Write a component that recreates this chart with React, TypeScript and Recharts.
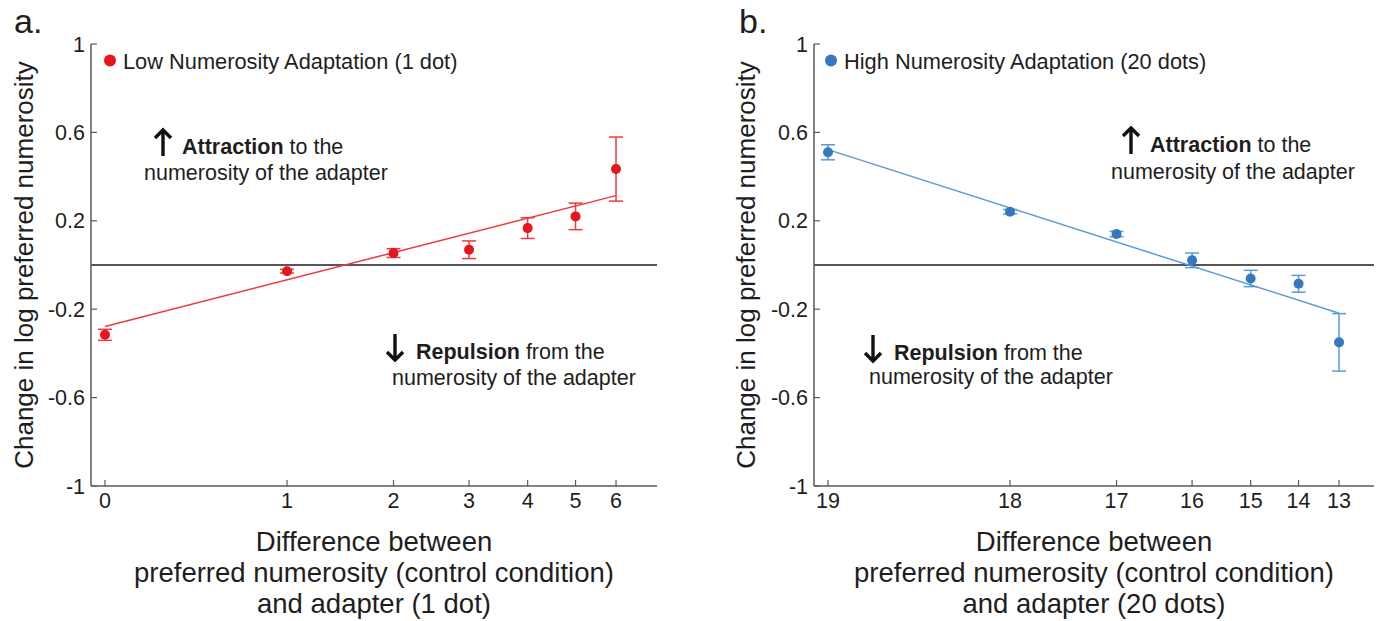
import React from 'react';
import { ComposedChart, Scatter, Line, XAxis, YAxis, ErrorBar, ReferenceLine } from 'recharts';

// Panel a: adaptation to 1 dot
const lowDiff = [0, 1, 2, 3, 4, 5, 6];
const lowShift = [-0.316, -0.028, 0.054, 0.069, 0.167, 0.22, 0.434];
const lowSem = [0.025, 0.008, 0.02, 0.04, 0.047, 0.06, 0.145];
const lowFitEnds = [-0.278, 0.314];

// Panel b: adaptation to 20 dots
const highDiff = [19, 18, 17, 16, 15, 14, 13];
const highShift = [0.51, 0.241, 0.14, 0.021, -0.061, -0.085, -0.35];
const highSem = [0.034, 0.01, 0.012, 0.033, 0.037, 0.038, 0.13];
const highFitEnds = [0.522, -0.218];

const yTicks = [-1, -0.6, -0.2, 0.2, 0.6, 1];

const FONT = '"Liberation Sans", Arial, Helvetica, sans-serif';
const AXIS = '#5a5a5a';
const INK = '#1e1e1e';

// the x axis is logarithmic in the preferred numerosity
const lowPreferred = (d: number) => d + 1;
const highPreferred = (d: number) => 20 - d;

type PanelProps = {
  diffs: number[];
  shift: number[];
  sem: number[];
  fitEnds: number[];
  preferred: (d: number) => number;
  dotColor: string;
  lineColor: string;
  width: number;
  marginLeft: number;
  marginRight: number;
  xMax: number;
};

const XMIN = -0.0533;

function Panel({ diffs, shift, sem, fitEnds, preferred, dotColor, lineColor, width, marginLeft, marginRight, xMax }: PanelProps) {
  const points = diffs.map((d, i) => ({ x: Math.log(preferred(d)), y: shift[i], sem: sem[i] }));
  const fit = [
    { x: Math.log(preferred(diffs[0])), y: fitEnds[0] },
    { x: Math.log(preferred(diffs[diffs.length - 1])), y: fitEnds[1] },
  ];
  const xTicks = diffs.map((d) => Math.log(preferred(d)));

  const XTick = (props: any) => {
    const { x, y, index } = props;
    return (
      <g>
        <line x1={x} y1={y - 6} x2={x} y2={y - 12} stroke={AXIS} strokeWidth={1.2} />
        <text x={x} y={y} dy={16} textAnchor="middle" fontSize={21.5} fontFamily={FONT} fill={INK}>
          {diffs[index]}
        </text>
      </g>
    );
  };

  const YTick = (props: any) => {
    const { x, y, payload } = props;
    return (
      <g>
        <line x1={x + 6} y1={y} x2={x + 12} y2={y} stroke={AXIS} strokeWidth={1.2} />
        <text x={x} y={y} dy={7.5} textAnchor="end" fontSize={21.5} fontFamily={FONT} fill={INK}>
          {String(payload.value)}
        </text>
      </g>
    );
  };

  return (
    <ComposedChart
      width={width}
      height={621}
      margin={{ top: 44, right: marginRight, bottom: 105, left: marginLeft }}
    >
      <XAxis
        type="number"
        dataKey="x"
        domain={[XMIN, xMax]}
        allowDataOverflow
        ticks={xTicks}
        interval={0}
        height={30}
        tickSize={6}
        tickMargin={0}
        tickLine={false}
        axisLine={{ stroke: AXIS, strokeWidth: 1.5 }}
        tick={<XTick />}
      />
      <YAxis
        type="number"
        dataKey="y"
        domain={[-1, 1]}
        allowDataOverflow
        ticks={yTicks}
        interval={0}
        width={60}
        tickSize={6}
        tickMargin={0}
        tickLine={false}
        axisLine={{ stroke: AXIS, strokeWidth: 1.5 }}
        tick={<YTick />}
      />
      <ReferenceLine y={0} stroke={INK} strokeWidth={1.5} ifOverflow="extendDomain" />
      <Line
        data={fit}
        dataKey="y"
        type="linear"
        stroke={lineColor}
        strokeWidth={1.5}
        dot={false}
        activeDot={false}
        isAnimationActive={false}
      />
      <Scatter
        data={points}
        dataKey="y"
        isAnimationActive={false}
        shape={(p: any) => <circle cx={p.cx} cy={p.cy} r={5} fill={dotColor} />}
      >
        <ErrorBar dataKey="sem" direction="y" width={7} stroke={lineColor} strokeWidth={1.5} isAnimationActive={false} />
      </Scatter>
    </ComposedChart>
  );
}

function Arrow({ cx, top, bottom, up }: { cx: number; top: number; bottom: number; up: boolean }) {
  const tip = up ? top : bottom;
  const s = up ? 1 : -1;
  return (
    <g stroke="#111" strokeWidth={3.4} fill="none" strokeLinejoin="miter" strokeLinecap="butt">
      <line x1={cx} y1={tip + s * 2} x2={cx} y2={up ? bottom : top} />
      <polyline points={`${cx - 8},${tip + s * 9} ${cx},${tip + 1 * s} ${cx + 8},${tip + s * 9}`} />
    </g>
  );
}

function Note({ x1, base1, x2, base2, bold, rest, up, arrowX, arrowTop, arrowBottom }: any) {
  return (
    <g fontFamily={FONT} fontSize={21.5} fill={INK}>
      <Arrow cx={arrowX} top={arrowTop} bottom={arrowBottom} up={up} />
      <text x={x1} y={base1}>
        <tspan fontWeight="bold">{bold}</tspan>
        <tspan>{rest}</tspan>
      </text>
      <text x={x2} y={base2}>numerosity of the adapter</text>
    </g>
  );
}

function Titles({ cx, yLabelX, letterX, letter, dotX, legend, dotColor, adapter }: any) {
  return (
    <g fontFamily={FONT} fill={INK}>
      <text x={letterX} y={33} fontSize={34}>{letter}</text>
      <circle cx={dotX} cy={60.5} r={6} fill={dotColor} />
      <text x={dotX + 13} y={69} fontSize={21.8}>{legend}</text>
      <text
        x={yLabelX}
        y={265}
        fontSize={26}
        textAnchor="middle"
        transform={`rotate(-90 ${yLabelX} 265)`}
      >
        Change in log preferred numerosity
      </text>
      <g fontSize={27.5} textAnchor="middle">
        <text x={cx} y={551}>Difference between</text>
        <text x={cx} y={582}>preferred numerosity (control condition)</text>
        <text x={cx} y={613}>{`and adapter (${adapter})`}</text>
      </g>
    </g>
  );
}

export default function App() {
  return (
    <div style={{ position: 'absolute', left: 0, top: 0, width: 1378, height: 621, background: '#fff' }}>
      <div style={{ position: 'absolute', left: 0, top: 0 }}>
        <Panel
          diffs={lowDiff}
          shift={lowShift}
          sem={lowSem}
          fitEnds={lowFitEnds}
          preferred={lowPreferred}
          dotColor="#e5161d"
          lineColor="#ee3a3a"
          width={700}
          marginLeft={31}
          marginRight={43}
          xMax={2.102}
        />
      </div>
      <div style={{ position: 'absolute', left: 700, top: 0 }}>
        <Panel
          diffs={highDiff}
          shift={highShift}
          sem={highSem}
          fitEnds={highFitEnds}
          preferred={highPreferred}
          dotColor="#3479bd"
          lineColor="#5b9bd5"
          width={678}
          marginLeft={54}
          marginRight={4}
          xMax={2.079}
        />
      </div>
      <svg width={1378} height={621} style={{ position: 'absolute', left: 0, top: 0, pointerEvents: 'none' }}>
        <Titles cx={374} yLabelX={33} letterX={14} letter="a." dotX={110} legend="Low Numerosity Adaptation (1 dot)" dotColor="#e5161d" adapter="1 dot" />
        <Titles cx={1094} yLabelX={755} letterX={739} letter="b." dotX={831} legend="High Numerosity Adaptation (20 dots)" dotColor="#3479bd" adapter="20 dots" />
        <Note up arrowX={163} arrowTop={129} arrowBottom={156} x1={182} base1={154} bold="Attraction" rest=" to the" x2={144} base2={180} />
        <Note up={false} arrowX={395} arrowTop={334} arrowBottom={361} x1={416} base1={359} bold="Repulsion" rest=" from the" x2={392} base2={385} />
        <Note up arrowX={1131} arrowTop={127} arrowBottom={154} x1={1150} base1={152} bold="Attraction" rest=" to the" x2={1111} base2={179} />
        <Note up={false} arrowX={873} arrowTop={335} arrowBottom={362} x1={894} base1={360} bold="Repulsion" rest=" from the" x2={869} base2={384} />
      </svg>
    </div>
  );
}
